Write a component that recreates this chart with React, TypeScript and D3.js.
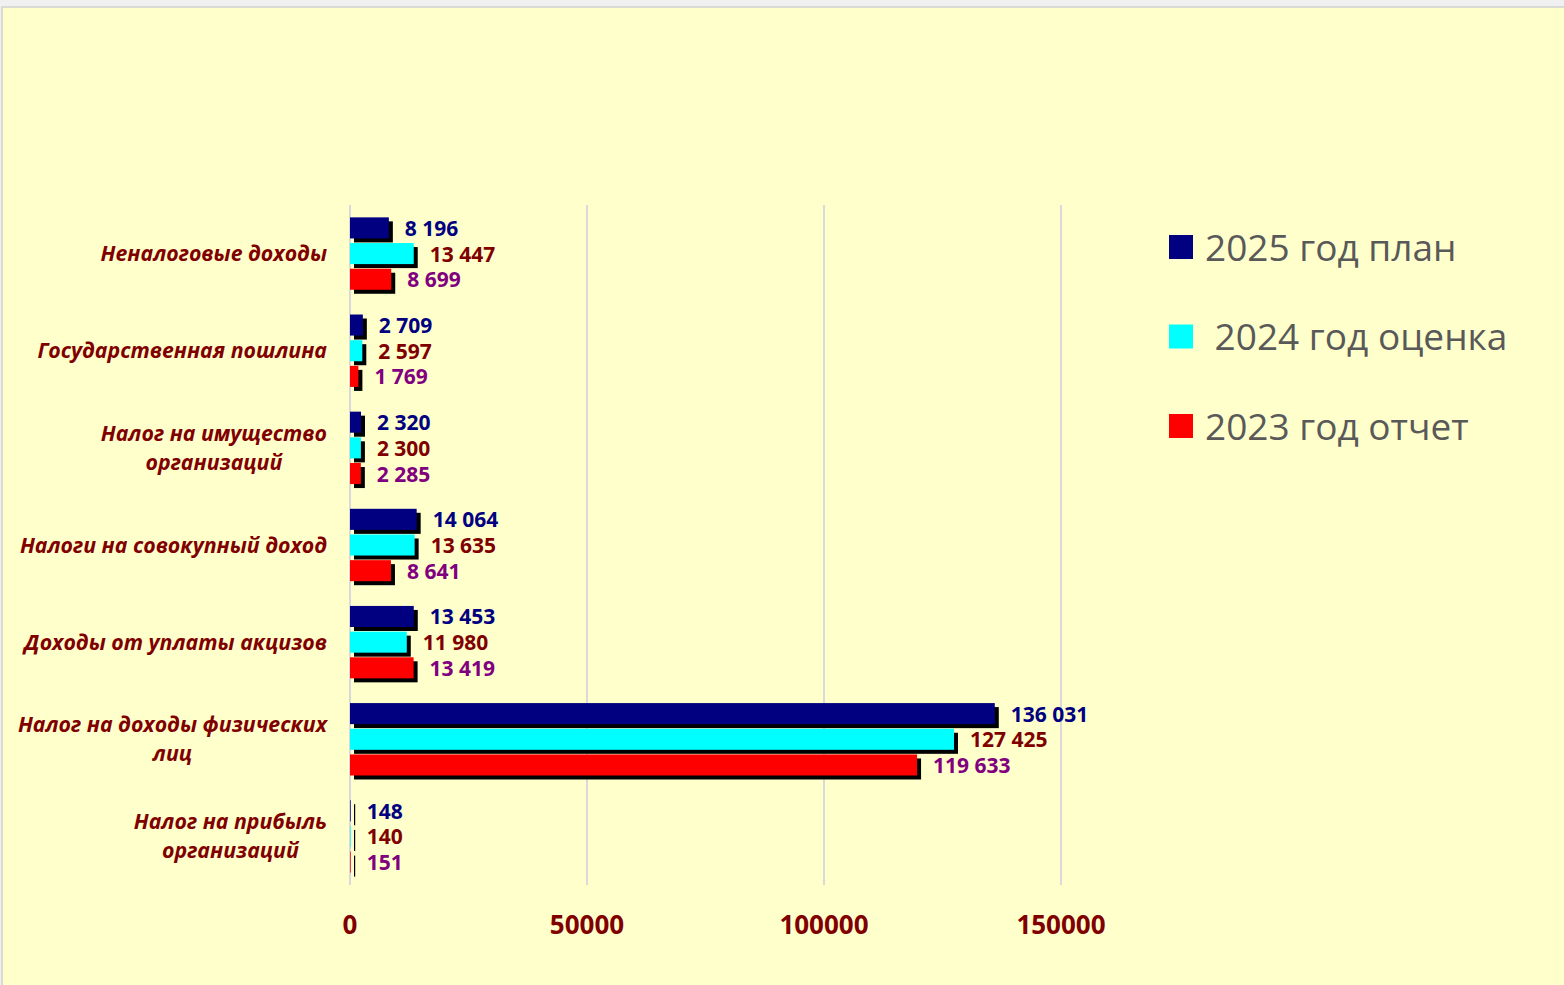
import React, { useRef, useEffect } from 'react'
import * as d3 from 'd3'

// categories, top to bottom
const categories = [
  ['Неналоговые доходы'],
  ['Государственная пошлина'],
  ['Налог на имущество', 'организаций'],
  ['Налоги на совокупный доход'],
  ['Доходы от уплаты акцизов'],
  ['Налог на доходы физических', 'лиц'],
  ['Налог на прибыль', 'организаций'],
]

const seriesNames = ['2025 год план', ' 2024 год оценка', '2023 год отчет']
const plan2025 = [8196, 2709, 2320, 14064, 13453, 136031, 148]
const est2024 = [13447, 2597, 2300, 13635, 11980, 127425, 140]
const rep2023 = [8699, 1769, 2285, 8641, 13419, 119633, 151]

const xTicks = [0, 50000, 100000, 150000]

const barColors = ['#000080', '#00FFFF', '#FF0000']
const labelColors = ['#000080', '#800000', '#800080']

const W = 1564
const H = 985
const FONT = '"Open Sans", "Noto Sans", sans-serif'

const App = () => {
  const svgRef = useRef(null)

  useEffect(() => {
    const svg = d3.select(svgRef.current)
    svg.selectAll('*').remove()

    const values = [plan2025, est2024, rep2023]
    const keys = categories.map((c, i) => String(i))
    const fmt = d3.formatLocale({ decimal: ',', thousands: ' ', grouping: [3], currency: ['', ''] }).format(',d')

    const x = d3.scaleLinear([0, 150000], [350, 1061])
    const y = d3.scaleBand(keys, [205, 885])
    const inner = d3.scaleBand(d3.range(3).map(String), [-36.2, 36.2]).paddingInner(0.18)

    // frame
    svg.append('rect').attr('width', W).attr('height', H).attr('fill', '#f0f0f0')
    svg.append('rect')
      .attr('x', 2).attr('y', 7).attr('width', W).attr('height', H)
      .attr('fill', '#FFFFCC').attr('stroke', '#cfcfcf').attr('stroke-width', 1.5)

    // gridlines
    svg.append('g')
      .selectAll('line')
      .data(xTicks)
      .join('line')
      .attr('x1', d => x(d)).attr('x2', d => x(d))
      .attr('y1', 205).attr('y2', 885)
      .attr('stroke', '#d9d9d9').attr('stroke-width', 2)

    // axis labels
    svg.append('g')
      .selectAll('text')
      .data(xTicks)
      .join('text')
      .attr('x', d => x(d)).attr('y', 924)
      .attr('text-anchor', 'middle').attr('dominant-baseline', 'central')
      .attr('font-family', FONT).attr('font-weight', 700).attr('font-size', 26)
      .attr('fill', '#800000')
      .text(d => String(d))

    // bars
    values.forEach((vals, s) => {
      const g = svg.append('g')
      const rows = vals.map((v, i) => ({ v, i }))
      g.selectAll('rect.shadow')
        .data(rows)
        .join('rect')
        .attr('class', 'shadow')
        .attr('x', x(0) + 4)
        .attr('y', d => y(String(d.i)) + y.bandwidth() / 2 + inner(String(s)) + 4)
        .attr('width', d => Math.max(1.2, x(d.v) - x(0)))
        .attr('height', inner.bandwidth())
        .attr('fill', '#000')
      g.selectAll('rect.bar')
        .data(rows)
        .join('rect')
        .attr('class', 'bar')
        .attr('x', x(0))
        .attr('y', d => y(String(d.i)) + y.bandwidth() / 2 + inner(String(s)))
        .attr('width', d => x(d.v) - x(0))
        .attr('height', inner.bandwidth())
        .attr('fill', barColors[s])
      g.selectAll('text')
        .data(rows)
        .join('text')
        .attr('x', d => x(d.v) + 16)
        .attr('y', d => y(String(d.i)) + y.bandwidth() / 2 + inner(String(s)) + inner.bandwidth() / 2)
        .attr('dominant-baseline', 'central')
        .attr('font-family', FONT).attr('font-weight', 700).attr('font-size', 21)
        .attr('fill', labelColors[s])
        .text(d => fmt(d.v))
    })

    // category labels: right-aligned block, lines centered within it
    const right = 327
    categories.forEach((lines, i) => {
      const cy = y(String(i)) + y.bandwidth() / 2 - 1
      const t = svg.append('text')
        .attr('font-family', FONT).attr('font-weight', 700).attr('font-style', 'italic')
        .attr('font-size', 21.3).attr('fill', '#800000')
      if (lines.length === 1) {
        t.attr('x', right).attr('y', cy).attr('text-anchor', 'end')
          .attr('dominant-baseline', 'central').text(lines[0])
      } else {
        const spans = lines.map((line, k) => t.append('tspan')
          .attr('y', cy + (k - (lines.length - 1) / 2) * 29)
          .attr('dominant-baseline', 'central')
          .text(line))
        const widths = spans.map(sp => sp.node().getComputedTextLength())
        const cx = right - d3.max(widths) / 2
        spans.forEach(sp => sp.attr('x', cx).attr('text-anchor', 'middle'))
      }
    })

    // legend
    const legend = svg.append('g')
    seriesNames.forEach((name, s) => {
      const ly = 247 + s * 89.5
      legend.append('rect')
        .attr('x', 1169).attr('y', ly - 12).attr('width', 24).attr('height', 24)
        .attr('fill', barColors[s])
      legend.append('text')
        .attr('x', 1205).attr('y', ly - 1)
        .attr('dominant-baseline', 'central')
        .attr('font-family', FONT).attr('font-size', 37)
        .attr('fill', '#595959')
        .style('white-space', 'pre')
        .text(name)
    })
  }, [])

  return (
    <div style={{ position: 'absolute', left: 0, top: 0 }}>
      <svg ref={svgRef} width={W} height={H} style={{ display: 'block' }} />
    </div>
  )
}

export default App
